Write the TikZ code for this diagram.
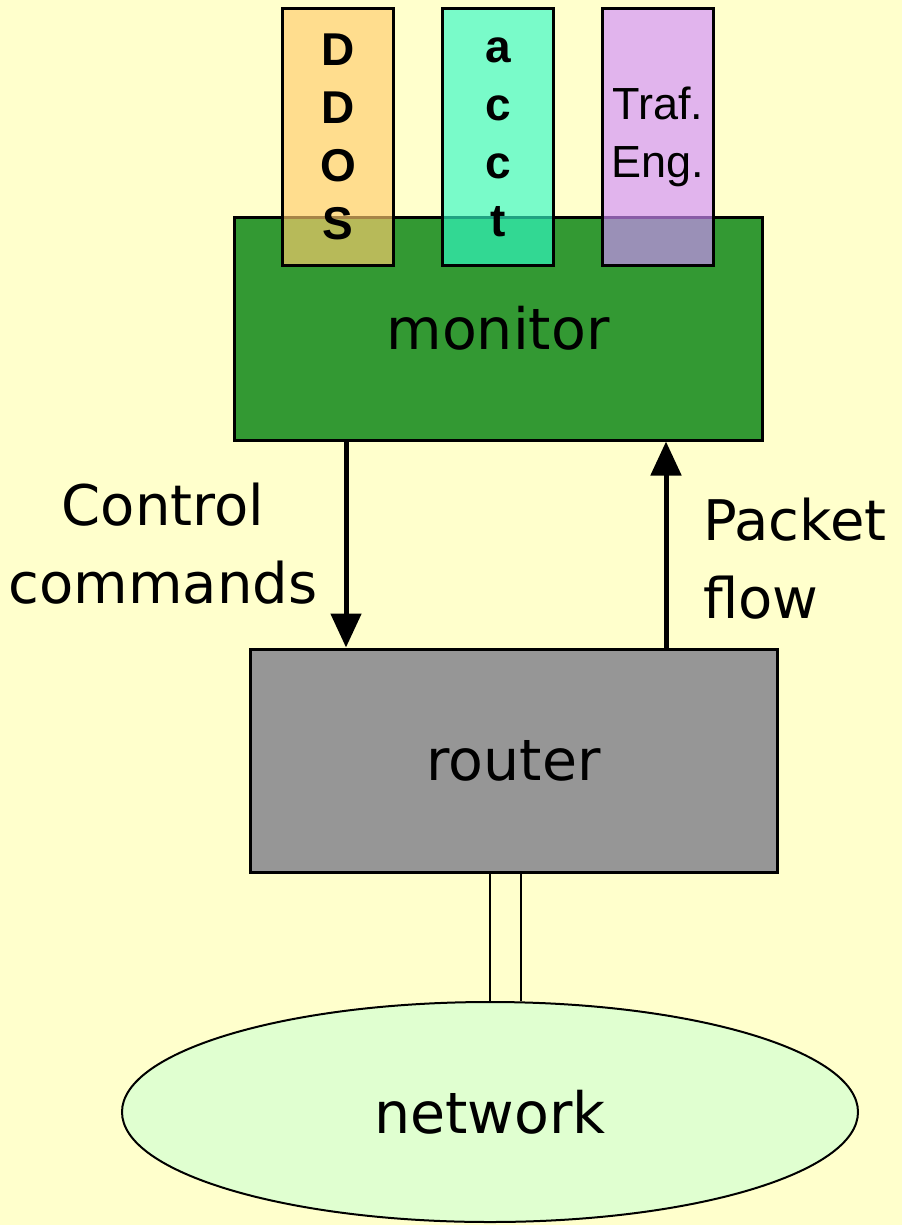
\documentclass[tikz,border=0pt]{standalone}
\usepackage{fontspec}
\setmainfont{Liberation Sans}
\newfontfamily\labfont{DejaVu Sans}
\usetikzlibrary{arrows.meta,shapes.geometric}
\definecolor{bg}{RGB}{255,255,204}
\definecolor{mongreen}{RGB}{51,153,51}
\definecolor{routgrey}{RGB}{150,150,150}
\definecolor{netgreen}{RGB}{224,255,208}
\definecolor{ddosc}{RGB}{255,204,110}
\definecolor{acctc}{RGB}{50,250,200}
\definecolor{trafc}{RGB}{210,140,255}
\tikzset{
  bigbox/.style={draw=black, line width=3pt, rectangle, inner sep=0pt, minimum width=528pt, minimum height=223pt, font=\labfont\fontsize{57}{78}\selectfont},
  appbox/.style={draw=black, line width=3pt, rectangle, inner sep=0pt, minimum width=111pt, minimum height=256pt, fill opacity=0.65, text opacity=1, align=center},
  arr/.style={line width=5pt, -{Triangle[width=30pt,length=34pt]}},
  link/.style={line width=2.5pt},
  lab/.style={inner sep=0pt, font=\labfont\fontsize{56}{78}\selectfont}
}
\begin{document}
\begin{tikzpicture}[x=1pt,y=-1pt]
\path[fill=bg] (0,0) rectangle (902,1225);
\useasboundingbox (0,0) rectangle (902,1225);
\node[bigbox, fill=mongreen] (monitor) at (498,328.5) {monitor};
\node[bigbox, fill=routgrey, minimum width=527pt] (router) at (513.5,760.5) {router};
\node[draw=black, line width=2pt, ellipse, fill=netgreen, minimum width=736pt, minimum height=220pt, inner sep=0pt, font=\labfont\fontsize{57}{78}\selectfont] (network) at (490,1112) {network};
\node[appbox, fill=ddosc, font=\bfseries\fontsize{46}{58}\selectfont] (ddos) at (338,137) {D\\D\\O\\S};
\node[appbox, fill=acctc, font=\bfseries\fontsize{46}{58}\selectfont] (acct) at (498,137) {a\\c\\c\\t};
\node[appbox, fill=trafc, font=\fontsize{45}{58}\selectfont] (traf) at (658,137) {Traf.\\Eng.};
\coordinate (cx) at (346,0);
\coordinate (px) at (666,0);
\draw[arr] (cx |- monitor.south) -- (cx |- router.north);
\draw[arr] (px |- router.north) -- (px |- monitor.south);
\draw[link] (network.north |- router.south) -- (network.north);
\draw[link] ([xshift=31pt]network.north |- router.south) -- ([xshift=31pt]network.north);
\node[lab, align=center] (ctrl) at (163,544) {Control\\commands};
\node[lab, align=left, anchor=west] (pkt) at (703,559) {Packet\\flow};
\end{tikzpicture}
\end{document}
